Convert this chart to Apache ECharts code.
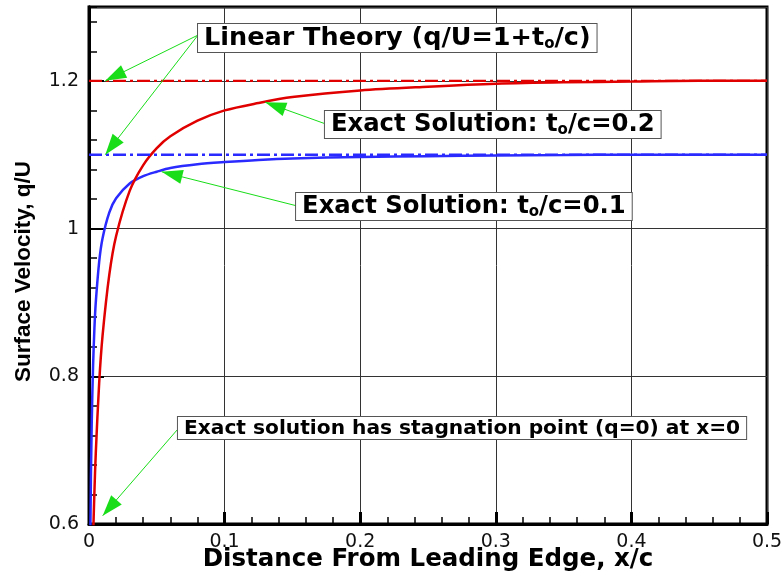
<!DOCTYPE html>
<html>
<head>
<meta charset="utf-8">
<title>Surface Velocity on an Elliptic Section</title>
<script src="https://cdn.jsdelivr.net/npm/echarts@6/dist/echarts.min.js"></script>
<style>
  html, body { margin: 0; padding: 0; background: #ffffff; }
  #chart { width: 782px; height: 573px; }
</style>
</head>
<body>
<div id="chart"></div>
<script>
// Chordwise stations x/c
const xStations = [0, 0.001, 0.002, 0.003, 0.004, 0.005, 0.0075, 0.01, 0.015, 0.02, 0.03, 0.04, 0.05,
  0.06, 0.08, 0.1, 0.125, 0.15, 0.2, 0.25, 0.3, 0.35, 0.4, 0.45, 0.5];
// Exact surface velocity q/U, thickness ratio t/c = 0.2
const exactThick20 = [0, 0.362, 0.491, 0.579, 0.644, 0.696, 0.791, 0.855, 0.938, 0.990, 1.051, 1.086, 1.109,
  1.125, 1.146, 1.160, 1.170, 1.178, 1.187, 1.192, 1.196, 1.198, 1.199, 1.200, 1.200];
// Exact surface velocity q/U, thickness ratio t/c = 0.1
const exactThick10 = [0, 0.589, 0.735, 0.814, 0.865, 0.900, 0.955, 0.987, 1.022, 1.041, 1.061, 1.071, 1.077,
  1.082, 1.087, 1.090, 1.093, 1.095, 1.097, 1.098, 1.099, 1.0995, 1.100, 1.100, 1.100];
// Linear theory q/U = 1 + t/c (constant along the chord)
const linearSpan = [0, 0.5];
const linearThick20 = [1.2, 1.2];
const linearThick10 = [1.1, 1.1];
// Axis ticks
const xTickValues = [0, 0.1, 0.2, 0.3, 0.4, 0.5];
const yTickValues = [0.6, 0.8, 1.0, 1.2];

const pairs = (xs, ys) => xs.map((x, i) => [x, ys[i]]);

const SANS = "'Liberation Sans', Arial, Helvetica, sans-serif";
const WIDE = "'DejaVu Sans', Verdana, sans-serif";
const RED = '#e00000';
const BLUE = '#2a2aff';
const GREEN = '#19dd19';
const DASH_DOT = [13, 4, 3, 4];

const richStyles = (size, subSize, lh) => ({
  b: { fontFamily: WIDE, fontWeight: 'bold', fontSize: size, color: '#000', lineHeight: lh },
  s: { fontFamily: WIDE, fontWeight: 'bold', fontSize: subSize, color: '#000', lineHeight: 5, verticalAlign: 'bottom' }
});

function noteBox(coord, text, size, subSize, lh) {
  return {
    coord: coord,
    symbol: 'rect',
    symbolSize: 0,
    itemStyle: { color: 'rgba(0,0,0,0)' },
    label: {
      show: true,
      position: 'right',
      distance: 0,
      formatter: text,
      backgroundColor: '#ffffff',
      borderColor: '#555555',
      borderWidth: 1,
      padding: [1, 6, 0, 6],
      rich: richStyles(size, subSize, lh)
    }
  };
}

const HEAD = [14, 21];
function arrow(from, to) {
  return [
    { coord: from, symbol: 'none' },
    { coord: to, symbol: 'triangle', symbolSize: HEAD, symbolOffset: [0, HEAD[1] / 2] }
  ];
}

const chart = echarts.init(document.getElementById('chart'), null, { renderer: 'canvas' });

const axisNum = v => String(+(+v).toFixed(2));

chart.setOption({
  animation: false,
  backgroundColor: '#ffffff',
  grid: {
    left: 89, right: 15, top: 7, bottom: 49,
    containLabel: false,
    outerBoundsMode: 'none',
    show: true, borderColor: '#000', borderWidth: 3, backgroundColor: 'transparent'
  },
  xAxis: {
    type: 'value',
    min: xTickValues[0],
    max: xTickValues[xTickValues.length - 1],
    interval: xTickValues[1] - xTickValues[0],
    name: 'Distance From Leading Edge, x/c',
    nameLocation: 'middle',
    nameGap: 23,
    nameMoveOverlap: false,
    nameTextStyle: { fontFamily: WIDE, fontWeight: 'bold', fontSize: 24.5, color: '#000' },
    axisLine: { show: true, lineStyle: { color: '#000', width: 3 } },
    axisTick: { show: true, inside: true, length: 12, lineStyle: { color: '#000', width: 3 } },
    minorTick: { show: true, splitNumber: 5, length: 7, lineStyle: { color: '#000', width: 1.5 } },
    splitLine: { show: true, lineStyle: { color: '#333', width: 1 } },
    axisLabel: { fontFamily: WIDE, fontSize: 19, color: '#111', margin: 9, formatter: axisNum }
  },
  yAxis: [
    {
      // fine ticks every 0.04
      type: 'value',
      position: 'left',
      min: 0.6, max: 1.3, interval: 0.04,
      axisLine: { show: true, lineStyle: { color: '#000', width: 3 } },
      axisTick: { show: true, inside: true, length: 8, lineStyle: { color: '#000', width: 1.5 } },
      axisLabel: { show: false },
      splitLine: { show: false }
    },
    {
      type: 'value',
      position: 'left',
      min: yTickValues[0], max: 1.3, interval: yTickValues[1] - yTickValues[0],
      name: 'Surface Velocity, q/U',
      nameLocation: 'middle',
      nameGap: 54,
      nameMoveOverlap: false,
      nameTextStyle: { fontFamily: SANS, fontWeight: 'bold', fontSize: 22.5, color: '#000', padding: [0, 12, 0, 0] },
      axisLine: { show: true, lineStyle: { color: '#000', width: 3 } },
      axisTick: { show: true, inside: true, length: 15, lineStyle: { color: '#000', width: 2 } },
      splitLine: { show: true, lineStyle: { color: '#333', width: 1 } },
      axisLabel: { fontFamily: WIDE, fontSize: 19, color: '#111', margin: 10, showMaxLabel: false, formatter: axisNum }
    }
  ],
  series: [
    {
      name: 'Exact t/c=0.1',
      type: 'line',
      yAxisIndex: 1,
      data: pairs(xStations, exactThick10),
      showSymbol: false,
      smooth: 0.3,
      clip: true,
      lineStyle: { color: BLUE, width: 2.5 },
      silent: true,
      z: 3
    },
    {
      name: 'Exact t/c=0.2',
      type: 'line',
      yAxisIndex: 1,
      data: pairs(xStations, exactThick20),
      showSymbol: false,
      smooth: 0.3,
      clip: true,
      lineStyle: { color: RED, width: 2.5 },
      silent: true,
      z: 3
    },
    {
      name: 'Linear t/c=0.2',
      type: 'line',
      yAxisIndex: 1,
      data: pairs(linearSpan, linearThick20),
      showSymbol: false,
      lineStyle: { color: RED, width: 2.4, type: DASH_DOT },
      silent: true,
      z: 4
    },
    {
      name: 'Linear t/c=0.1',
      type: 'line',
      yAxisIndex: 1,
      data: pairs(linearSpan, linearThick10),
      showSymbol: false,
      lineStyle: { color: BLUE, width: 2.4, type: DASH_DOT },
      silent: true,
      z: 4,
      markLine: {
        silent: true,
        symbol: ['none', 'triangle'],
        label: { show: false },
        emphasis: { disabled: true },
        lineStyle: { color: GREEN, width: 1, type: 'solid' },
        itemStyle: { color: '#00d400' },
        data: [
          arrow([0.0804, 1.262], [0.012, 1.2]),
          arrow([0.0804, 1.262], [0.012, 1.1]),
          arrow([0.174, 1.142], [0.13, 1.171]),
          arrow([0.1527, 1.031], [0.0536, 1.077]),
          arrow([0.0659, 0.7293], [0.0101, 0.6112])
        ]
      },
      markPoint: {
        silent: true,
        data: [
          noteBox([0.0804, 1.258], '{b|Linear Theory (q/U=1+t}{s|o}{b|/c)}', 25.5, 15, 27),
          noteBox([0.174, 1.141], '{b|Exact Solution: t}{s|o}{b|/c=0.2}', 24.3, 15, 26),
          noteBox([0.1527, 1.030], '{b|Exact Solution: t}{s|o}{b|/c=0.1}', 24.3, 15, 26),
          noteBox([0.0656, 0.730], '{b|Exact solution has stagnation point (q=0) at x=0}', 20.2, 12, 21)
        ]
      }
    }
  ]
});
</script>
</body>
</html>
